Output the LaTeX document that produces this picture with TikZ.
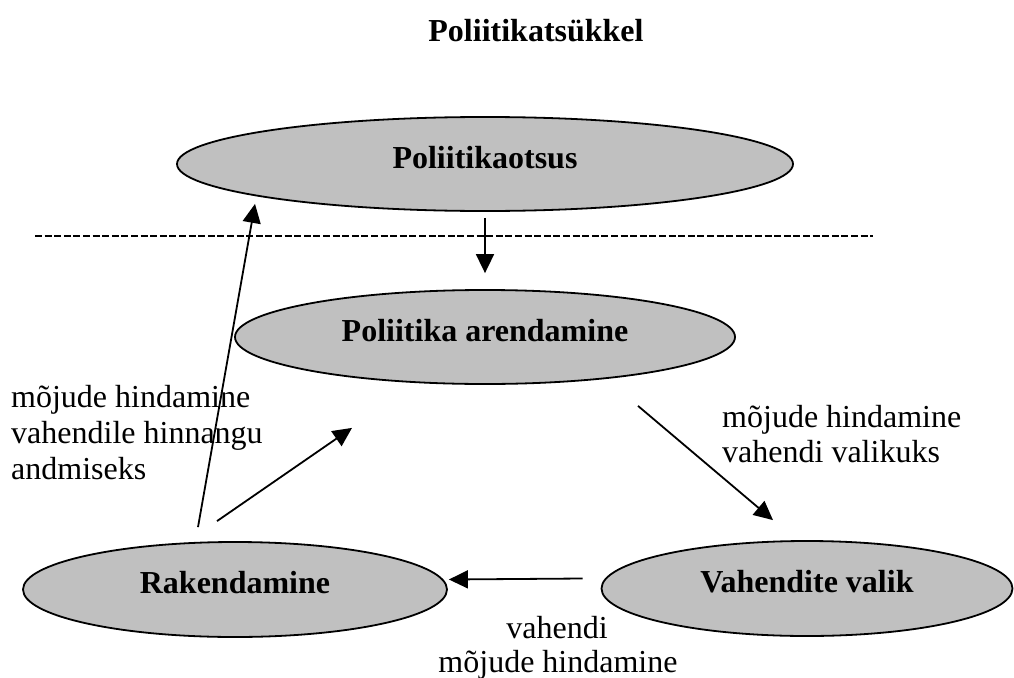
\documentclass[tikz,border=0pt]{standalone}
\usepackage{fontspec}
\setmainfont{Liberation Serif}
\usetikzlibrary{arrows.meta,shapes.geometric}
\definecolor{silverfill}{RGB}{192,192,192}
\begin{document}
\begin{tikzpicture}[x=1pt,y=-1pt,
  oval/.style={ellipse,draw=black,line width=1.8pt,fill=silverfill,inner sep=0pt,
    font=\bfseries\fontsize{32}{36}\selectfont,text height=10pt,text depth=2pt},
  lbl/.style={inner sep=0pt,font=\fontsize{32}{36}\selectfont},
  titlelbl/.style={inner sep=0pt,font=\bfseries\fontsize{32}{36}\selectfont},
  arr/.style={line width=1.8pt,-{Triangle[length=19pt,width=18pt]}},
  dashline/.style={line width=2.4pt,dash pattern=on 7pt off 2.6pt}]
\useasboundingbox (0,0) rectangle (1014,677);

\node[titlelbl,anchor=base] (title) at (536,42) {Poliitikatsükkel};

\node[oval,minimum width=616pt,minimum height=94pt] (ot) at (485,164) {Poliitikaotsus};
\node[oval,minimum width=500pt,minimum height=94pt] (ar) at (485,337) {Poliitika arendamine};
\node[oval,minimum width=424pt,minimum height=95pt] (rk) at (235,589.5) {Rakendamine};
\node[oval,minimum width=411pt,minimum height=95pt] (vv) at (807,588.5) {Vahendite valik};

\coordinate (dl) at (35,236);
\coordinate (dr) at (873,236);
\draw[dashline] (dl) -- (dr);

\draw[arr] ([yshift=-6pt]ot.south) -- ([yshift=16pt]ar.north);
\draw[arr] ([xshift=-18pt,yshift=10pt]vv.west) -- ([xshift=1pt,yshift=10pt]rk.east);
\draw[arr] ([xshift=-37pt,yshift=14pt]rk.north) -- ([xshift=-230pt,yshift=8pt]ot.south);
\draw[arr] ([xshift=-18pt,yshift=20pt]rk.north) -- ([xshift=-133pt,yshift=-43pt]ar.south);
\draw[arr] ([xshift=153pt,yshift=-21pt]ar.south) -- ([xshift=-34pt,yshift=20pt]vv.north);

\node[lbl,anchor=base west] (l1) at (11,407) {mõjude hindamine};
\node[lbl,anchor=base west] (l2) at (11,443) {vahendile hinnangu};
\node[lbl,anchor=base west] (l3) at (11,479) {andmiseks};

\node[lbl,anchor=base west] (r1) at (722,427) {mõjude hindamine};
\node[lbl,anchor=base west] (r2) at (722,462) {vahendi valikuks};

\node[lbl,anchor=base] (b1) at (557,638) {vahendi};
\node[lbl,anchor=base] (b2) at (558,672) {mõjude hindamine};
\end{tikzpicture}
\end{document}
